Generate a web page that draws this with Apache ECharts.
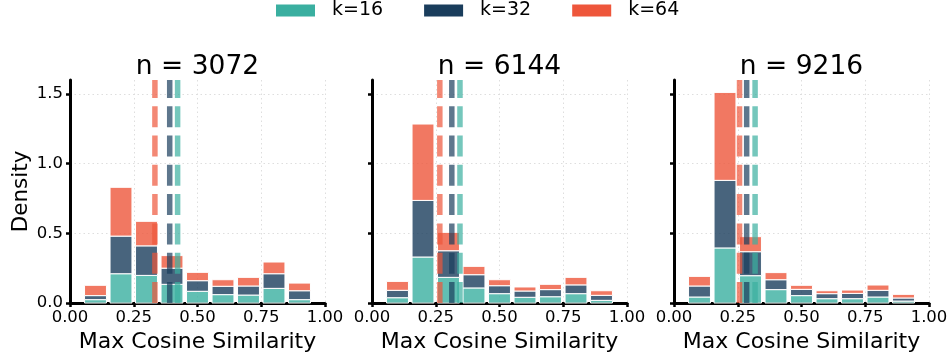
<!DOCTYPE html>
<html>
<head>
<meta charset="utf-8">
<script src="https://cdn.jsdelivr.net/npm/echarts@6/dist/echarts.min.js"></script>
<style>
html,body{margin:0;padding:0;background:#fff;}
#chart{width:952px;height:358px;}
</style>
</head>
<body>
<div id="chart"></div>
<script>
// ---- data ----
const panelTitles = ['n = 3072', 'n = 6144', 'n = 9216'];
const seriesNames = ['k=16', 'k=32', 'k=64'];
const binCenters = [0.1, 0.2, 0.3, 0.4, 0.5, 0.6, 0.7, 0.8, 0.9];
const xTicks = [0, 0.25, 0.5, 0.75, 1.0];
const yTicks = [0, 0.5, 1.0, 1.5];

// stacked histogram layer heights (density), bottom to top: k=16, k=32, k=64
const n3072_k16 = [0.024, 0.21, 0.198, 0.134, 0.084, 0.060, 0.057, 0.105, 0.024];
const n3072_k32 = [0.029, 0.27, 0.212, 0.116, 0.076, 0.060, 0.065, 0.105, 0.064];
const n3072_k64 = [0.074, 0.35, 0.176, 0.090, 0.060, 0.047, 0.062, 0.084, 0.055];

const n6144_k16 = [0.038, 0.33, 0.184, 0.108, 0.067, 0.041, 0.045, 0.067, 0.019];
const n6144_k32 = [0.053, 0.406, 0.191, 0.095, 0.057, 0.045, 0.051, 0.063, 0.036];
const n6144_k64 = [0.064, 0.548, 0.132, 0.060, 0.043, 0.029, 0.038, 0.054, 0.033];

const n9216_k16 = [0.043, 0.395, 0.196, 0.096, 0.053, 0.031, 0.031, 0.043, 0.014];
const n9216_k32 = [0.079, 0.485, 0.172, 0.071, 0.045, 0.036, 0.038, 0.048, 0.022];
const n9216_k64 = [0.069, 0.631, 0.108, 0.051, 0.029, 0.021, 0.024, 0.038, 0.026];

// mean max-cosine-similarity (dashed lines) per panel: k=16, k=32, k=64
const n3072_means = [0.422, 0.391, 0.333];
const n6144_means = [0.345, 0.313, 0.266];
const n9216_means = [0.318, 0.285, 0.257];

const panelLayers = [
  [n3072_k16, n3072_k32, n3072_k64],
  [n6144_k16, n6144_k32, n6144_k64],
  [n9216_k16, n9216_k32, n9216_k64]
];
const panelMeans = [n3072_means, n6144_means, n9216_means];

// ---- styling ----
const baseColors = ['#3aafa0', '#1a3d5c', '#ee563b'];
const barFill = ['rgba(58,175,160,0.8)', 'rgba(26,61,92,0.8)', 'rgba(238,86,59,0.8)'];
const lineFill = ['rgba(58,175,160,0.7)', 'rgba(26,61,92,0.7)', 'rgba(238,86,59,0.7)'];
const FONT = 'DejaVu Sans';
const HALF = 0.043;
const YMAX = 1.6;
const gridLefts = [70, 372, 674];
const GRID_W = 255, GRID_TOP = 80, GRID_H = 223;
const gridLine = {color: '#dedede', width: 1, type: [1.5, 3]};

const grids = [], xAxes = [], yAxes = [], series = [], graphics = [];

gridLefts.forEach((left, p) => {
  grids.push({left: left, top: GRID_TOP, width: GRID_W, height: GRID_H, containLabel: false});
  xAxes.push({
    type: 'value', gridIndex: p, min: 0, max: 1, interval: 0.25,
    name: 'Max Cosine Similarity', nameLocation: 'middle', nameGap: 26,
    nameTextStyle: {fontFamily: FONT, fontSize: 22, color: '#000'},
    axisLine: {show: true, lineStyle: {color: '#000', width: 3}},
    axisTick: {show: true, length: 4, lineStyle: {color: '#000', width: 2.5}},
    axisLabel: {fontFamily: FONT, fontSize: 16.5, color: '#000', margin: 6,
      formatter: v => v.toFixed(2), showMinLabel: true, showMaxLabel: true},
    splitLine: {show: true, lineStyle: gridLine}
  });
  yAxes.push({
    type: 'value', gridIndex: p, min: 0, max: YMAX, interval: 0.5,
    name: p === 0 ? 'Density' : '', nameLocation: 'middle', nameGap: 38,
    nameTextStyle: {fontFamily: FONT, fontSize: 21.5, color: '#000'},
    axisLine: {show: true, lineStyle: {color: '#000', width: 3}},
    axisTick: {show: true, length: 4, lineStyle: {color: '#000', width: 2.5}, customValues: yTicks},
    axisLabel: {show: p === 0, fontFamily: FONT, fontSize: 16.5, color: '#000', margin: 7,
      customValues: yTicks, formatter: v => v.toFixed(1)},
    splitLine: {show: true, customValues: yTicks, lineStyle: gridLine}
  });

  // stacked histogram bars
  const layers = panelLayers[p];
  const cum = binCenters.map(() => 0);
  layers.forEach((vals, s) => {
    const data = binCenters.map((c, i) => {
      const b = cum[i];
      const t = b + vals[i];
      cum[i] = t;
      return [c, b, t];
    });
    series.push({
      type: 'custom', name: seriesNames[s], xAxisIndex: p, yAxisIndex: p,
      itemStyle: {color: baseColors[s]},
      z: 2,
      renderItem: (params, api) => {
        const c = api.value(0), y0 = api.value(1), y1 = api.value(2);
        const a = api.coord([c - HALF, y1]);
        const b = api.coord([c + HALF, y0]);
        return {type: 'rect',
          shape: {x: a[0], y: a[1], width: b[0] - a[0], height: b[1] - a[1]},
          style: {fill: barFill[s], stroke: '#ffffff', lineWidth: 1}};
      },
      encode: {x: 0, y: [1, 2]},
      data: data
    });
  });

  // dashed mean lines
  panelMeans[p].forEach((m, s) => {
    series.push({
      type: 'line', name: 'mean ' + seriesNames[s], xAxisIndex: p, yAxisIndex: p,
      data: [[m, 0], [m, YMAX]], symbol: 'none', silent: true, z: 5,
      lineStyle: {color: lineFill[s], width: 5.5, type: [21, 8.3]}
    });
  });

  graphics.push({
    type: 'text', x: left + GRID_W / 2, y: 67,
    style: {text: panelTitles[p], fontFamily: FONT, fontSize: 26.5, fill: '#000',
      textAlign: 'center', textVerticalAlign: 'middle'}
  });
});

const chart = echarts.init(document.getElementById('chart'), null, {renderer: 'canvas'});
chart.setOption({
  animation: false,
  backgroundColor: '#fff',
  textStyle: {fontFamily: FONT},
  legend: {
    top: 1, left: 276, itemWidth: 39, itemHeight: 12, itemGap: 41, padding: 0,
    icon: 'rect',
    textStyle: {fontFamily: FONT, fontSize: 19, color: '#000', padding: [0, 0, 0, 12]},
    data: seriesNames.map((n, s) => ({name: n, itemStyle: {color: baseColors[s], opacity: 1}}))
  },
  grid: grids,
  xAxis: xAxes,
  yAxis: yAxes,
  series: series,
  graphic: graphics
});
</script>
</body>
</html>
